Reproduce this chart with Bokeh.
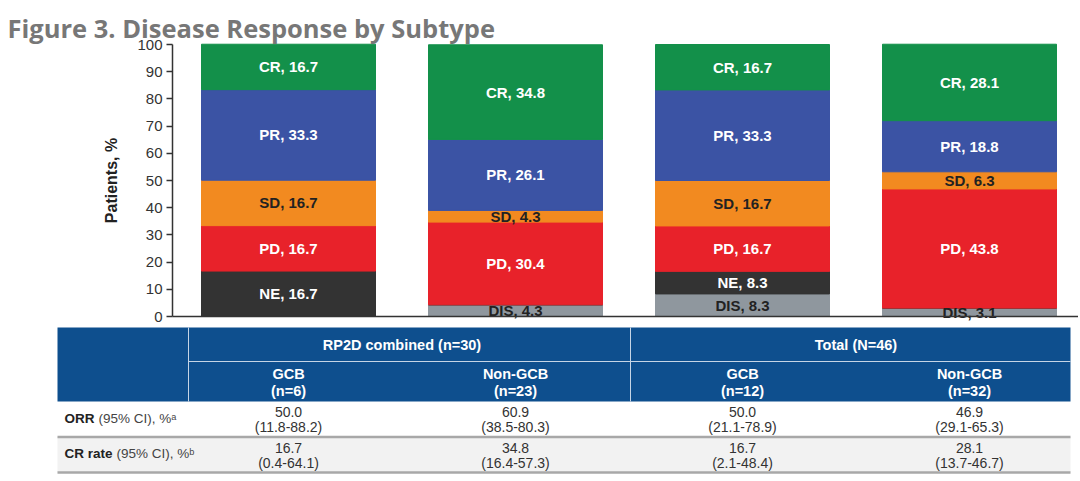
from bokeh.plotting import figure
from bokeh.models import Range1d, Label, ColumnDataSource, FixedTicker, LinearAxis
from bokeh.core.properties import value
from bokeh.embed import file_html
from bokeh.resources import INLINE

# ---------------- data ----------------
groups = ["RP2D GCB", "RP2D Non-GCB", "Total GCB", "Total Non-GCB"]
responses = ["DIS", "NE", "PD", "SD", "PR", "CR"]
DIS = [0.0, 4.3, 8.3, 3.1]
NE = [16.7, 0.0, 8.3, 0.0]
PD = [16.7, 30.4, 16.7, 43.8]
SD = [16.7, 4.3, 16.7, 6.3]
PR = [33.3, 26.1, 33.3, 18.8]
CR = [16.7, 34.8, 16.7, 28.1]
y_ticks = list(range(0, 101, 10))

group_headers = ["RP2D combined (n=30)", "Total (N=46)"]
sub_headers = ["GCB", "Non-GCB", "GCB", "Non-GCB"]
sub_n = ["(n=6)", "(n=23)", "(n=12)", "(n=32)"]
row_names = ["ORR", "CR rate"]
row_suffix = ["(95% CI), %\u1d43", "(95% CI), %\u1d47"]
orr = ["50.0", "60.9", "50.0", "46.9"]
orr_ci = ["(11.8-88.2)", "(38.5-80.3)", "(21.1-78.9)", "(29.1-65.3)"]
cr_rate = ["16.7", "34.8", "16.7", "28.1"]
cr_ci = ["(0.4-64.1)", "(16.4-57.3)", "(2.1-48.4)", "(13.7-46.7)"]

# ---------------- layout / style ----------------
colors = ["#8f979e", "#333333", "#e8222a", "#f28a20", "#3b53a4", "#13904a"]
label_colors = ["#222222", "#ffffff", "#ffffff", "#222222", "#ffffff", "#ffffff"]
FONT = "Liberation Sans"
W, H = 1078, 479
PX = 227.0              # pixels per bar slot
BAR0 = 288.0            # pixel centre of first bar
AXIS_X = 172.0          # pixel of y axis
Y0_PIX, Y100_PIX = 316.0, 44.0
YPU = (Y0_PIX - Y100_PIX) / 100.0
X_START = -BAR0 / PX
X_END = X_START + W / PX
Y_END = 100 + Y100_PIX / YPU
Y_START = -(H - Y0_PIX) / YPU
BAR_W = 174.0 / PX

p = figure(width=W, height=H, title=None,
           x_range=Range1d(X_START, X_END), y_range=Range1d(Y_START, Y_END),
           x_axis_location=None, y_axis_location=None, min_border=0,
           output_backend="svg", toolbar_location=None, tools="")
p.extra_x_ranges = {"px": Range1d(0, W)}
p.extra_y_ranges = {"px": Range1d(H, 0)}
p.grid.visible = False
p.outline_line_color = None
p.background_fill_color = "white"
p.border_fill_color = "white"

# ---------------- stacked bars ----------------
src = ColumnDataSource(dict(x=list(range(len(groups))), DIS=DIS, NE=NE, PD=PD, SD=SD, PR=PR, CR=CR))
p.vbar_stack(responses, x="x", width=BAR_W, color=colors, source=src)

series = [DIS, NE, PD, SD, PR, CR]
lx, ly, lt, lc = [], [], [], []
base = [0.0] * len(groups)
for r, vals, c in zip(responses, series, label_colors):
    for i, v in enumerate(vals):
        if v > 0:
            lx.append(i)
            ly.append(base[i] + v / 2.0)
            lt.append(f"{r}, {v:.1f}")
            lc.append(c)
        base[i] += v
p.text(x=lx, y=ly, text=lt, text_color=lc, text_font=value(FONT), text_font_style="bold",
       text_font_size="15px", text_align="center", text_baseline="middle")

# ---------------- axes ----------------
axis_x_data = X_START + AXIS_X / PX
yax = LinearAxis(fixed_location=axis_x_data, bounds=(0, 100))
yax.ticker = FixedTicker(ticks=y_ticks)
yax.major_label_text_font = FONT
yax.major_label_text_font_size = "15px"
yax.major_label_text_color = "#333333"
yax.major_label_standoff = 4
yax.major_tick_out = 6
yax.major_tick_in = 0
yax.minor_tick_line_color = None
yax.axis_line_color = "#333333"
yax.axis_line_width = 1.5
yax.major_tick_line_color = "#333333"
yax.major_tick_line_width = 1.5
yax.axis_label = "Patients, %"
yax.axis_label_text_font = FONT
yax.axis_label_text_font_style = "bold"
yax.axis_label_text_font_size = "16px"
yax.axis_label_text_color = "#222222"
yax.axis_label_standoff = 14
p.add_layout(yax, "left")

xax = LinearAxis(fixed_location=0, bounds=(axis_x_data, X_END))
xax.ticker = FixedTicker(ticks=[])
xax.major_tick_line_color = None
xax.minor_tick_line_color = None
xax.major_label_text_font_size = "0px"
xax.axis_line_color = "#333333"
xax.axis_line_width = 1.5
p.add_layout(xax, "below")

# ---------------- title ----------------
p.add_layout(Label(x=7, y=27, x_range_name="px", y_range_name="px",
                   text="Figure 3. Disease Response by Subtype", text_font="Open Sans",
                   text_font_style="bold", text_font_size="25.5px", text_color="#777777",
                   text_align="left", text_baseline="alphabetic"))

# ---------------- table ----------------
TL, TR, C1, CG = 57, 1070, 188, 630
T0, T1, T2, T3, T4 = 327, 361, 401, 436.5, 472
cx = [(i - X_START) * PX for i in range(len(groups))]
gx = [(cx[0] + cx[1]) / 2.0, (cx[2] + cx[3]) / 2.0]
kw = dict(x_range_name="px", y_range_name="px")

p.quad(left=[TL], right=[TR], top=[T0], bottom=[T2], fill_color="#0e4f8e", line_color=None, **kw)
p.quad(left=[TL], right=[TR], top=[T3], bottom=[T4], fill_color="#f2f2f2", line_color=None, **kw)
p.segment(x0=[C1, CG, C1], y0=[T0, T0, T1], x1=[C1, CG, TR], y1=[T2, T2, T1],
          line_color="#c6d5e6", line_width=1, **kw)
p.segment(x0=[TL, TL], y0=[T3, T4], x1=[TR, TR], y1=[T3, T4],
          line_color="#a8a8a8", line_width=2.5, **kw)

hdr = dict(text_font=value(FONT), text_font_style="bold", text_font_size="14.5px",
           text_color="white", text_align="center", text_baseline="middle", **kw)
p.text(x=gx, y=[344, 344], text=group_headers, **hdr)
p.text(x=cx, y=[373] * 4, text=sub_headers, **hdr)
p.text(x=cx, y=[390] * 4, text=sub_n, **hdr)

cell = dict(text_font=value(FONT), text_font_size="14px", text_color="#333333",
            text_align="center", text_baseline="middle", **kw)
p.text(x=cx, y=[411] * 4, text=orr, **cell)
p.text(x=cx, y=[426] * 4, text=orr_ci, **cell)
p.text(x=cx, y=[447] * 4, text=cr_rate, **cell)
p.text(x=cx, y=[462] * 4, text=cr_ci, **cell)

p.text(x=[64, 64], y=[418, 453], text=row_names, text_font=value(FONT),
       text_font_style="bold", text_font_size="13.5px", text_color="#222222",
       text_align="left", text_baseline="middle", **kw)
p.text(x=[98, 116], y=[418, 453], text=row_suffix,
       text_font=value(FONT), text_font_size="13.5px", text_color="#444444",
       text_align="left", text_baseline="middle", **kw)

open("out.html", "w").write(file_html(p, INLINE))
